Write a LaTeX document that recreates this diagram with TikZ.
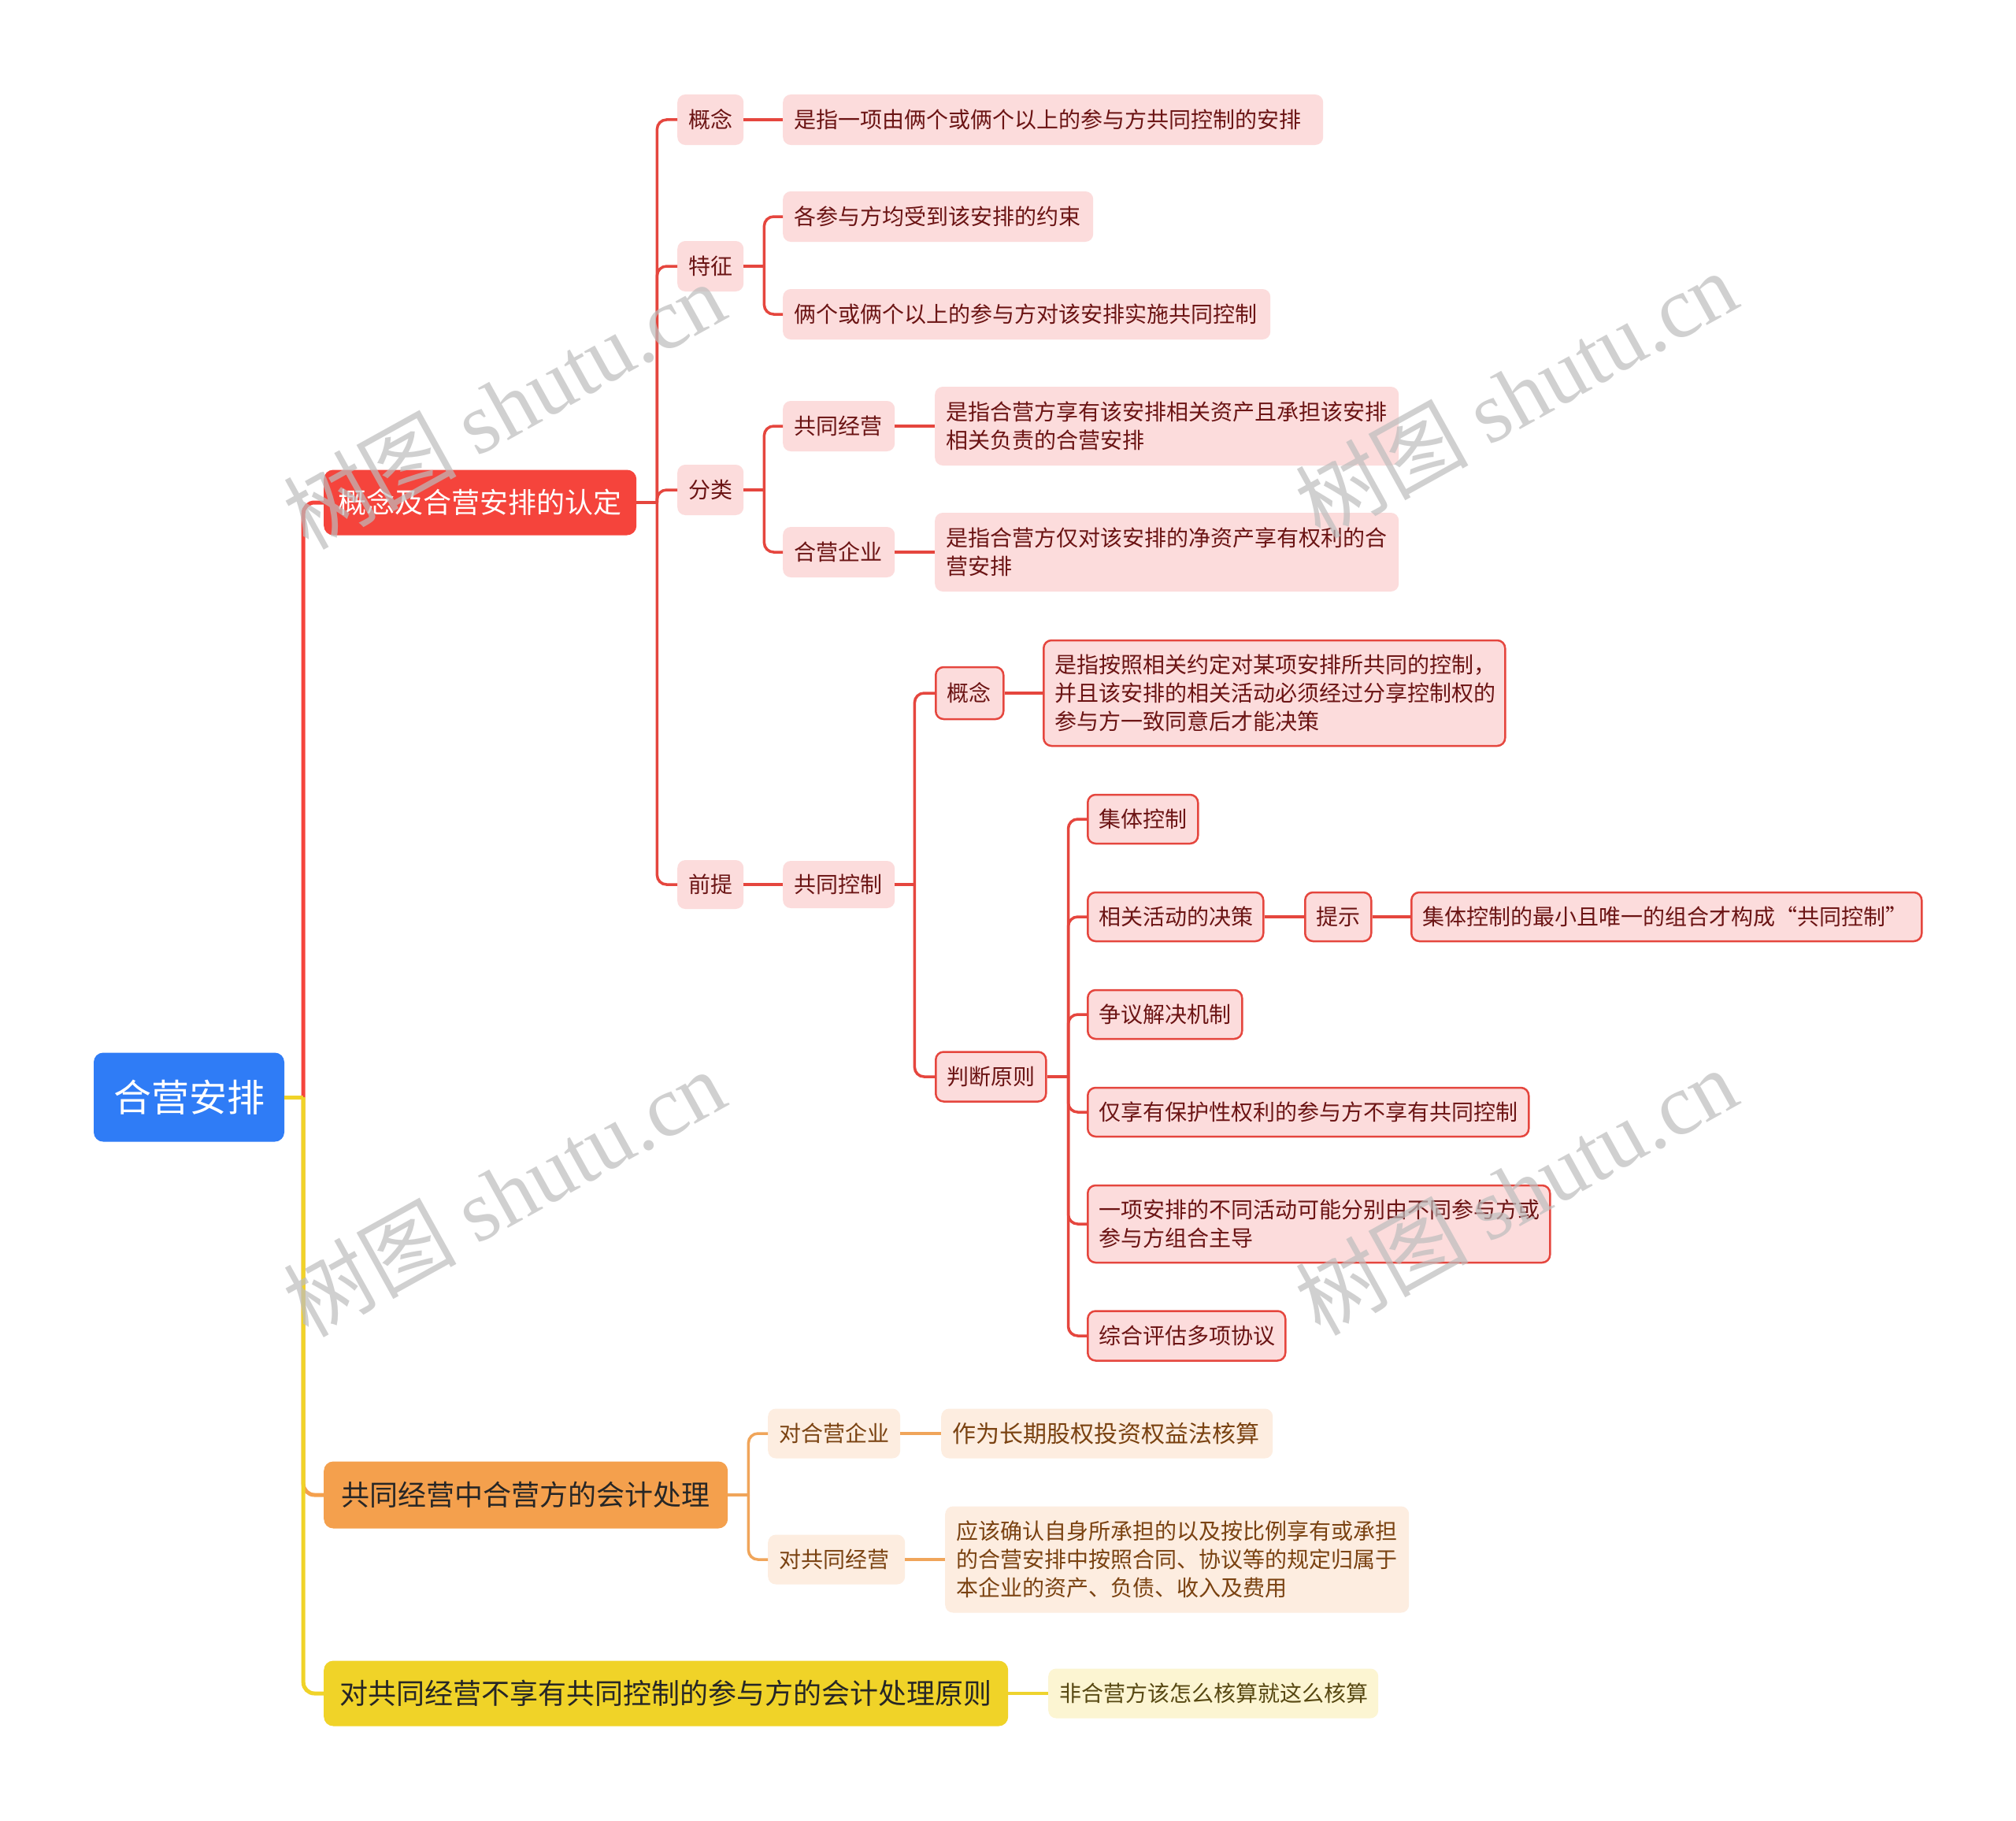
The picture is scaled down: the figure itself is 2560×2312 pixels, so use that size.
\documentclass[tikz,border=0pt]{standalone}
\usepackage{fontspec}
\setmainfont{Noto Sans CJK SC}
\newfontfamily\wmserif{Liberation Serif}
\newfontfamily\wmcjk{Noto Sans CJK SC}
\definecolor{rootblue}{HTML}{2F7CF6}
\definecolor{lonered}{HTML}{F5443C}
\definecolor{loneorange}{HTML}{F4A04D}
\definecolor{loneyellow}{HTML}{F0D328}
\definecolor{redfill}{HTML}{FCDCDC}
\definecolor{redtext}{HTML}{6B1414}
\definecolor{redline}{HTML}{E5463E}
\definecolor{orfill}{HTML}{FDEDE0}
\definecolor{ortext}{HTML}{7A4211}
\definecolor{orline}{HTML}{F0A55A}
\definecolor{yefill}{HTML}{FCF5D2}
\definecolor{yetext}{HTML}{574812}
\definecolor{yeline}{HTML}{EED32E}
\definecolor{wmgray}{HTML}{BDBDBD}
\newcommand{\mysmallfont}{\fontsize{28}{36}\selectfont}
\newcommand{\mymidfont}{\fontsize{36}{44}\selectfont}
\newcommand{\mybigfont}{\fontsize{48}{56}\selectfont}
\tikzset{
  box/.style={anchor=west, rounded corners=10, inner xsep=14, inner ysep=3, align=left, font=\mysmallfont},
  rbox/.style={box, fill=redfill, text=redtext},
  rbord/.style={rbox, draw=redline, line width=2.5},
  obox/.style={box, fill=orfill, text=ortext},
  ybox/.style={box, fill=yefill, text=yetext},
  lone/.style={anchor=west, rounded corners=12, inner sep=0, align=center, font=\mymidfont},
  czero/.style={line width=5, rounded corners=14},
  cred/.style={line width=3.5, draw=redline, rounded corners=12},
  cor/.style={line width=3.5, draw=orline, rounded corners=12},
  cye/.style={line width=3.5, draw=yeline, rounded corners=12},
  wm/.style={text=wmgray, opacity=0.7, rotate=29, inner sep=0}
}
\begin{document}
\begin{tikzpicture}[x=1pt,y=-1pt]
\useasboundingbox (0,0) rectangle (2560,2312);
\fill[white] (0,0) rectangle (2560,2312);

% root
\node[fill=rootblue, text=white, rounded corners=12, minimum width=242, minimum height=113, inner sep=0, font=\mybigfont] (root) at (240,1393) {合营安排};

% level 1
\node[lone, fill=lonered, text=white, minimum width=397, minimum height=83] (A) at (411,638) {概念及合营安排的认定};
\node[lone, fill=loneorange, text=black!85, minimum width=513, minimum height=85] (B) at (411,1898) {共同经营中合营方的会计处理};
\node[lone, fill=loneyellow, text=black!85, minimum width=869, minimum height=83] (C) at (411,2150) {对共同经营不享有共同控制的参与方的会计处理原则};

% red level 2
\node[rbox, text width=56, minimum height=64] (a1) at (860,152) {概念};
\node[rbox, text width=56, minimum height=64] (a2) at (860,338) {特征};
\node[rbox, text width=56, minimum height=64] (a3) at (860,622) {分类};
\node[rbox, text width=56, minimum height=62] (a4) at (860,1123) {前提};

% red level 3
\node[rbox, text width=658, minimum height=64] (a1c) at (994,152) {是指一项由俩个或俩个以上的参与方共同控制的安排};
\node[rbox, text width=366, minimum height=64] (a2c1) at (994,275) {各参与方均受到该安排的约束};
\node[rbox, text width=591, minimum height=64] (a2c2) at (994,399) {俩个或俩个以上的参与方对该安排实施共同控制};
\node[rbox, text width=114, minimum height=64] (a3c1) at (994,541) {共同经营};
\node[rbox, text width=114, minimum height=64] (a3c2) at (994,701) {合营企业};
\node[rbox, text width=561, minimum height=100] (a3c1c) at (1187,541) {是指合营方享有该安排相关资产且承担该安排\\相关负责的合营安排};
\node[rbox, text width=561, minimum height=100] (a3c2c) at (1187,701) {是指合营方仅对该安排的净资产享有权利的合\\营安排};
\node[rbox, text width=114, minimum height=60] (a4c) at (994,1123) {共同控制};

% bordered nodes
\node[rbord, text width=58, minimum height=66] (g1) at (1187,880) {概念};
\node[rbord, text width=558, minimum height=134] (g1c) at (1324,880) {是指按照相关约定对某项安排所共同的控制，\\并且该安排的相关活动必须经过分享控制权的\\参与方一致同意后才能决策};
\node[rbord, text width=112, minimum height=63] (g2) at (1187,1367) {判断原则};
\node[rbord, text width=112, minimum height=62] (j1) at (1380,1040) {集体控制};
\node[rbord, text width=195, minimum height=62] (j2) at (1380,1164) {相关活动的决策};
\node[rbord, text width=56, minimum height=62] (j2a) at (1656,1164) {提示};
\node[rbord, text width=620, minimum height=62] (j2b) at (1791,1164) {集体控制的最小且唯一的组合才构成“共同控制”};
\node[rbord, text width=168, minimum height=62] (j3) at (1380,1288) {争议解决机制};
\node[rbord, text width=532, minimum height=62] (j4) at (1380,1412) {仅享有保护性权利的参与方不享有共同控制};
\node[rbord, text width=559, minimum height=98] (j5) at (1380,1554) {一项安排的不同活动可能分别由不同参与方或\\参与方组合主导};
\node[rbord, text width=223, minimum height=63] (j6) at (1380,1696) {综合评估多项协议};

% orange
\node[obox, text width=140, minimum height=63] (b1) at (975,1820) {对合营企业};
\node[obox, text width=393, minimum height=63, font=\fontsize{30}{36}\selectfont] (b1c) at (1195,1820) {作为长期股权投资权益法核算};
\node[obox, text width=146, minimum height=63] (b2) at (975,1980) {对共同经营};
\node[obox, text width=561, minimum height=135] (b2c) at (1200,1980) {应该确认自身所承担的以及按比例享有或承担\\的合营安排中按照合同、协议等的规定归属于\\本企业的资产、负债、收入及费用};

% yellow
\node[ybox, text width=391, minimum height=63] (c1) at (1331,2150) {非合营方该怎么核算就这么核算};

% root connectors
\path (root.east) -- ++(24,0) coordinate (rj);
\draw[czero, draw=lonered] (rj) |- (A.west);
\draw[czero, draw=loneorange] (rj) |- (B.west);
\draw[czero, draw=loneyellow] (rj) |- (C.west);
\draw[czero, draw=loneyellow] (root.east) -- (rj);

% A connectors
\path (A.east) -- ++(26,0) coordinate (aj);
\draw[cred] (A.east) -- (aj);
\foreach \n in {a1,a2,a3,a4} \draw[cred] (aj) |- (\n.west);
\draw[cred] (a1.east) -- (a1c.west);
\path (a2.east) -- ++(26,0) coordinate (a2j);
\draw[cred] (a2.east) -- (a2j);
\draw[cred] (a2j) |- (a2c1.west);
\draw[cred] (a2j) |- (a2c2.west);
\path (a3.east) -- ++(26,0) coordinate (a3j);
\draw[cred] (a3.east) -- (a3j);
\draw[cred] (a3j) |- (a3c1.west);
\draw[cred] (a3j) |- (a3c2.west);
\draw[cred] (a3c1.east) -- (a3c1c.west);
\draw[cred] (a3c2.east) -- (a3c2c.west);
\draw[cred] (a4.east) -- (a4c.west);
\path (a4c.east) -- ++(25,0) coordinate (a4j);
\draw[cred] (a4c.east) -- (a4j);
\draw[cred] (a4j) |- (g1.west);
\draw[cred] (a4j) |- (g2.west);
\draw[cred] (g1.east) -- (g1c.west);
\path (g2.east) -- ++(27,0) coordinate (g2j);
\draw[cred] (g2.east) -- (g2j);
\foreach \n in {j1,j2,j3,j4,j5,j6} \draw[cred] (g2j) |- (\n.west);
\draw[cred] (j2.east) -- (j2a.west);
\draw[cred] (j2a.east) -- (j2b.west);

% B connectors
\path (B.east) -- ++(26,0) coordinate (bj);
\draw[cor] (B.east) -- (bj);
\draw[cor] (bj) |- (b1.west);
\draw[cor] (bj) |- (b2.west);
\draw[cor] (b1.east) -- (b1c.west);
\draw[cor] (b2.east) -- (b2c.west);

% C connector
\draw[cye] (C.east) -- (c1.west);

% watermarks
\node[wm] (w1) at (640,514) {\fontsize{110}{110}\selectfont{\wmcjk 树图} {\wmserif shutu.cn}};
\node[wm] (w2) at (1925,500) {\fontsize{110}{110}\selectfont{\wmcjk 树图} {\wmserif shutu.cn}};
\node[wm] (w3) at (640,1514) {\fontsize{110}{110}\selectfont{\wmcjk 树图} {\wmserif shutu.cn}};
\node[wm] (w4) at (1925,1512) {\fontsize{110}{110}\selectfont{\wmcjk 树图} {\wmserif shutu.cn}};
\end{tikzpicture}
\end{document}
